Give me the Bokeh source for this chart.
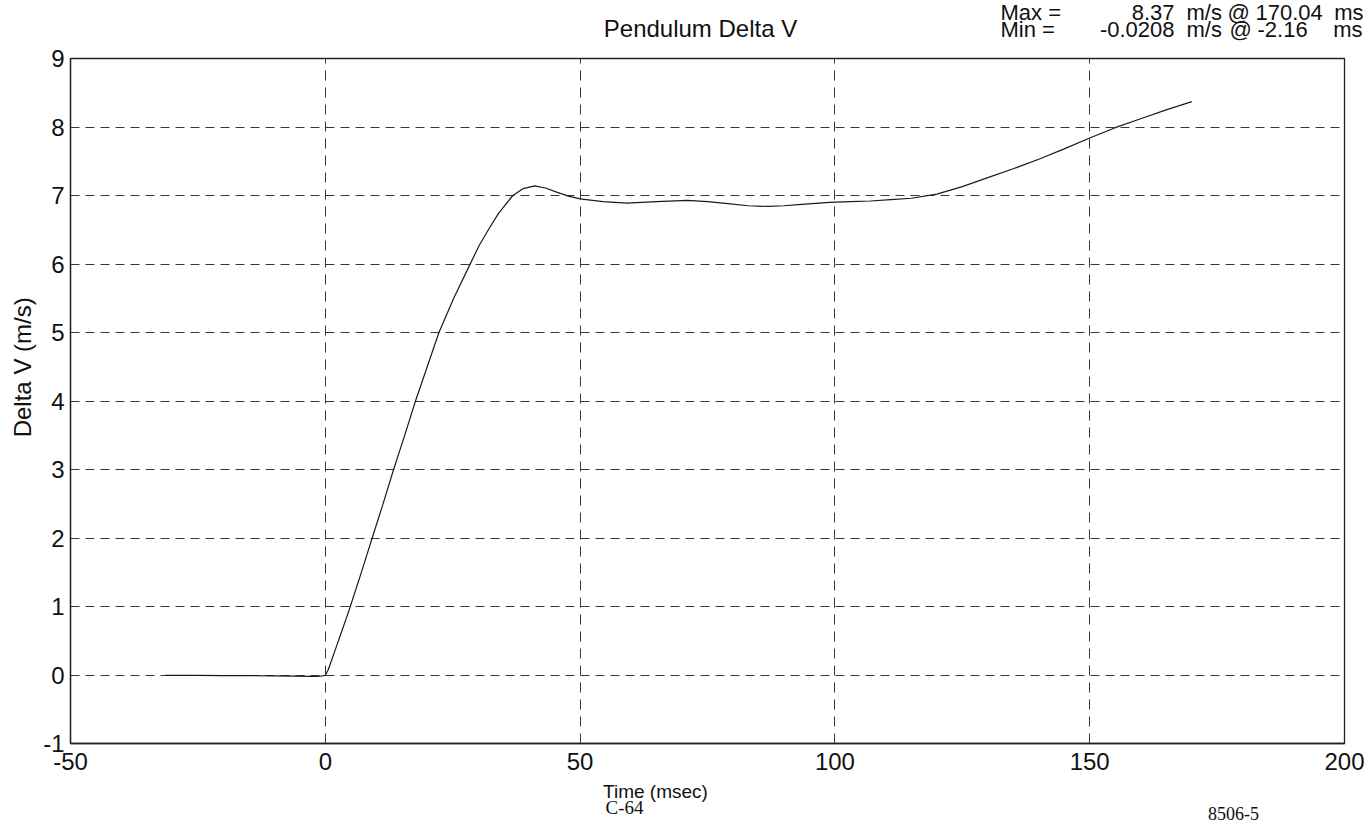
from bokeh.plotting import figure
from bokeh.models import Range1d, Label, FixedTicker
from bokeh.layouts import column, row
from bokeh.embed import file_html
from bokeh.resources import INLINE
import math

# ---- data ----
time_ms = [-31.4, -25, -20, -15, -10, -6, -3, -2.16, -1, 0, 0.6, 1.3, 2.1, 2.9, 3.9, 4.9,
           7.0, 9.2, 11.3, 13.4, 15.5, 17.7, 20.0, 22.3, 25.2, 28.3, 30.2, 32.0, 34.0,
           36.8, 38.8, 41.1, 43.2, 45.4, 47.7, 50.0, 54.5, 59.2, 65.0, 71.0, 75.0,
           79.0, 83.0, 87.0, 90.0, 93.5, 99.0, 103.0, 107.0, 111.0, 115.0, 120.0, 125.0,
           130.0, 135.0, 140.0, 145.0, 150.0, 155.0, 160.0, 165.0, 170.04]
delta_v = [-0.005, -0.006, -0.008, -0.010, -0.013, -0.016, -0.020, -0.0208, -0.018, -0.005,
           0.08, 0.23, 0.40, 0.57, 0.78, 1.00, 1.48, 2.00, 2.49, 3.00, 3.48, 4.00, 4.50,
           5.00, 5.50, 5.98, 6.27, 6.50, 6.74, 7.00, 7.10, 7.14, 7.11, 7.05, 6.99,
           6.95, 6.91, 6.89, 6.91, 6.93, 6.91, 6.88, 6.85, 6.84, 6.85, 6.87, 6.90, 6.91,
           6.92, 6.94, 6.96, 7.02, 7.13, 7.26, 7.39, 7.53, 7.68, 7.84, 7.99, 8.12, 8.25,
           8.37]

x_ticks = [-50, 0, 50, 100, 150, 200]
y_ticks = [-1, 0, 1, 2, 3, 4, 5, 6, 7, 8, 9]

title_text = "Pendulum Delta V"
y_label_text = "Delta V (m/s)"
x_label_text = "Time (msec)"
max_parts = ["Max =", "8.37", "m/s", "@", "170.04", "ms"]
min_parts = ["Min =", "-0.0208", "m/s", "@", "-2.16", "ms"]
page_tag = "C-64"
doc_tag = "8506-5"

# ---- layout (page pixels) ----
PAGE_W = 1368
HEAD_H = 44           # header strip with title and max/min
STRIP_W = 38          # strip holding the rotated y label
MAIN_H = 732
FOOT_H = 48
FRAME_L, FRAME_R, FRAME_T, FRAME_B = 70, 1344, 58, 743

ARIAL = "Liberation Sans"
TIMES = "Liberation Serif"
INK = "#111111"


def text_panel(w, h):
    f = figure(width=w, height=h, x_range=Range1d(0, w), y_range=Range1d(h, 0),
               output_backend="svg", toolbar_location=None,
               x_axis_location=None, y_axis_location=None,
               min_border=0, min_border_left=0, min_border_right=0,
               min_border_top=0, min_border_bottom=0)
    f.outline_line_color = None
    f.grid.visible = False
    f.background_fill_color = "white"
    f.border_fill_color = "white"
    return f


def lab(f, text, x, y, size="22px", align="left", font=ARIAL, angle=0):
    f.add_layout(Label(x=x, y=y, text=text, text_font=font, text_font_size=size,
                       text_align=align, text_baseline="middle", text_color=INK,
                       angle=angle))


# header
head = text_panel(PAGE_W, HEAD_H)
lab(head, title_text, 700, 28, size="24px", align="center")
header_cols = [  # (parts, y, x positions)
    (max_parts, 12, [1000, 1174, 1186, 1227, 1255, 1363]),
    (min_parts, 29, [1000, 1174, 1186, 1229, 1257, 1362]),
]
for parts, yy, xs in header_cols:
    lab(head, parts[0], xs[0], yy)
    lab(head, parts[1], xs[1], yy, align="right")
    lab(head, parts[2], xs[2], yy)
    lab(head, parts[3], xs[3], yy)
    lab(head, parts[4], xs[4], yy)
    lab(head, parts[5], xs[5], yy, align="right")

# left strip with the y label
strip = text_panel(STRIP_W, MAIN_H)
lab(strip, y_label_text, 22, 374 - HEAD_H, size="24px", align="center", angle=math.pi / 2)

# main chart
main_w = PAGE_W - STRIP_W
p = figure(width=main_w, height=MAIN_H, x_range=Range1d(-50, 200), y_range=Range1d(-1, 9),
           output_backend="svg", toolbar_location=None,
           min_border_left=FRAME_L - STRIP_W, min_border_right=PAGE_W - FRAME_R,
           min_border_top=FRAME_T - HEAD_H, min_border_bottom=HEAD_H + MAIN_H - FRAME_B)
p.background_fill_color = "white"
p.border_fill_color = "white"
p.outline_line_color = "#222222"
p.outline_line_width = 1.3

for ax, ticks in ((p.xaxis, x_ticks), (p.yaxis, y_ticks)):
    ax.ticker = FixedTicker(ticks=ticks)
    ax.major_label_overrides = {t: str(t) for t in ticks}
    ax.major_tick_in = 0
    ax.major_tick_out = 0
    ax.minor_tick_in = 0
    ax.minor_tick_out = 0
    ax.axis_line_color = "#222222"
    ax.axis_line_width = 1.3
    ax.major_label_text_font = ARIAL
    ax.major_label_text_font_size = "24px"
    ax.major_label_text_color = INK
p.xaxis.major_label_standoff = 9
p.yaxis.major_label_standoff = 6

p.xgrid.ticker = FixedTicker(ticks=x_ticks)
p.ygrid.ticker = FixedTicker(ticks=y_ticks)
for g, dash in ((p.xgrid, "10 7"), (p.ygrid, "9 6")):
    g.grid_line_color = "#222222"
    g.grid_line_width = 1
    g.grid_line_dash = dash
    g.grid_line_alpha = 0.9

p.line(time_ms, delta_v, line_color="#1a1a1a", line_width=1.2)

# footer
foot_y0 = HEAD_H + MAIN_H
foot = text_panel(PAGE_W, FOOT_H)
lab(foot, x_label_text, 655, 791 - foot_y0, size="19px", align="center")
lab(foot, page_tag, 624, 807 - foot_y0, size="19px", align="center", font=TIMES)
lab(foot, doc_tag, 1233, 813 - foot_y0, size="18px", align="center", font=TIMES)

layout = column(head, row(strip, p), foot)
open("out.html", "w").write(file_html(layout, INLINE))
